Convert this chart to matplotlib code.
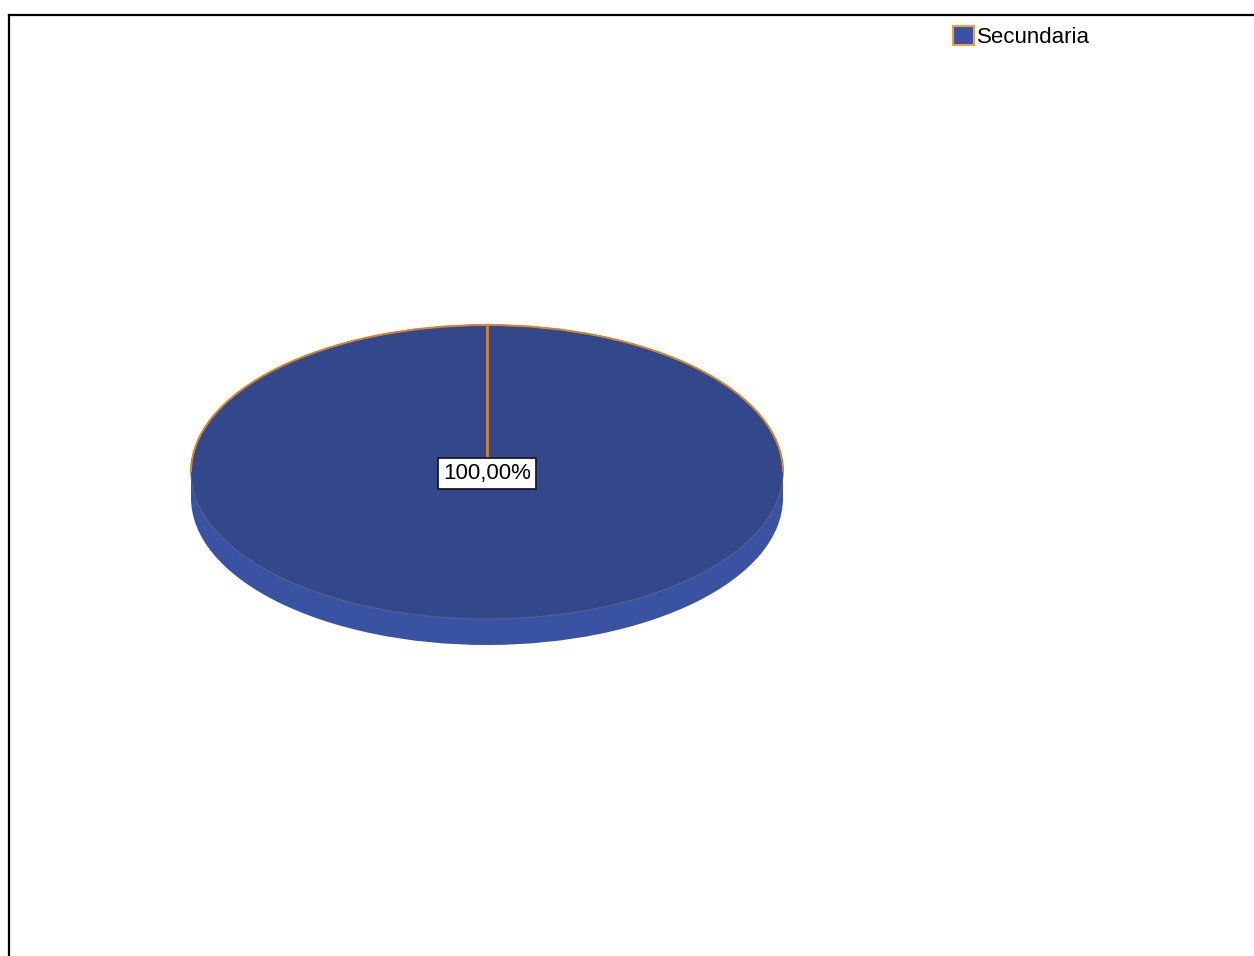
import matplotlib
matplotlib.use("Agg")
import matplotlib.pyplot as plt
from matplotlib.patches import Rectangle, Arc
from matplotlib.lines import Line2D

categories = ["Secundaria"]
values = [100.0]
labels = ["100,00%"]

W, H = 1254, 956
fig = plt.figure(figsize=(W / 100, H / 100), dpi=100)
fig.patch.set_facecolor("white")

# axes covering whole figure; x in pixels, y scaled so pie becomes an ellipse
k = 147.0 / 296.0  # vertical squash
ax = fig.add_axes([0, 0, 1, 1])

cx, cy_px, r = 487.0, 472.0, 296.0
depth_px = 26.0
cy = cy_px / k
depth = depth_px / k

top_col = "#33488a"
side_col = "#3a52a2"
edge_col = "#d4862c"

# side (rim) of the 3D pie
side_wedges, _ = ax.pie(values, colors=[side_col], radius=r,
                        center=(cx, cy + depth), startangle=90,
                        counterclock=False, frame=True,
                        wedgeprops=dict(linewidth=0))
for w in side_wedges:
    w.set_zorder(1)
ax.add_patch(Rectangle((cx - r, cy), 2 * r, depth, facecolor=side_col,
                       edgecolor="none", zorder=1))

# top face
top_wedges, _ = ax.pie(values, colors=[top_col], radius=r, center=(cx, cy),
                       startangle=90, counterclock=False, frame=True,
                       wedgeprops=dict(linewidth=0.8, edgecolor="#56608f"))
for w in top_wedges:
    w.set_zorder(3)
# orange outline on the visible upper rim
ax.add_patch(Arc((cx, cy), 2 * r, 2 * r, theta1=180, theta2=360,
                 color=edge_col, lw=1.4, zorder=4))
ax.plot([cx, cx], [cy, cy - r], color=edge_col, lw=2.0, zorder=4)

ax.set_xlim(0, W)
ax.set_ylim(H / k, 0)
ax.set_aspect("auto")
ax.axis("off")

ax.text(cx, cy + 1.5 / k, labels[0], ha="center", va="center", fontsize=16,
        family="Liberation Sans", color="black", zorder=6,
        bbox=dict(boxstyle="square,pad=0.22", facecolor="white",
                  edgecolor="#1a1a2a", linewidth=1.3))

# legend
leg = fig.legend(handles=[Rectangle((0, 0), 1, 1, facecolor="#3a52a2",
                                    edgecolor="#f0a040", linewidth=1.5)],
                 labels=categories, loc="upper left",
                 bbox_to_anchor=(953 / W, 1 - 26 / H), frameon=False,
                 prop=dict(family="Liberation Sans", size=16),
                 handlelength=0.95, handleheight=0.95, handletextpad=0.12,
                 borderpad=0, borderaxespad=0)

# frame lines (top and left)
fig.add_artist(Line2D([9 / W, 1], [1 - 15 / H, 1 - 15 / H], color="black",
                      lw=1.6, transform=fig.transFigure))
fig.add_artist(Line2D([9 / W, 9 / W], [0, 1 - 15 / H], color="black",
                      lw=1.6, transform=fig.transFigure))

fig.savefig("out.png", dpi=100, facecolor="white")
